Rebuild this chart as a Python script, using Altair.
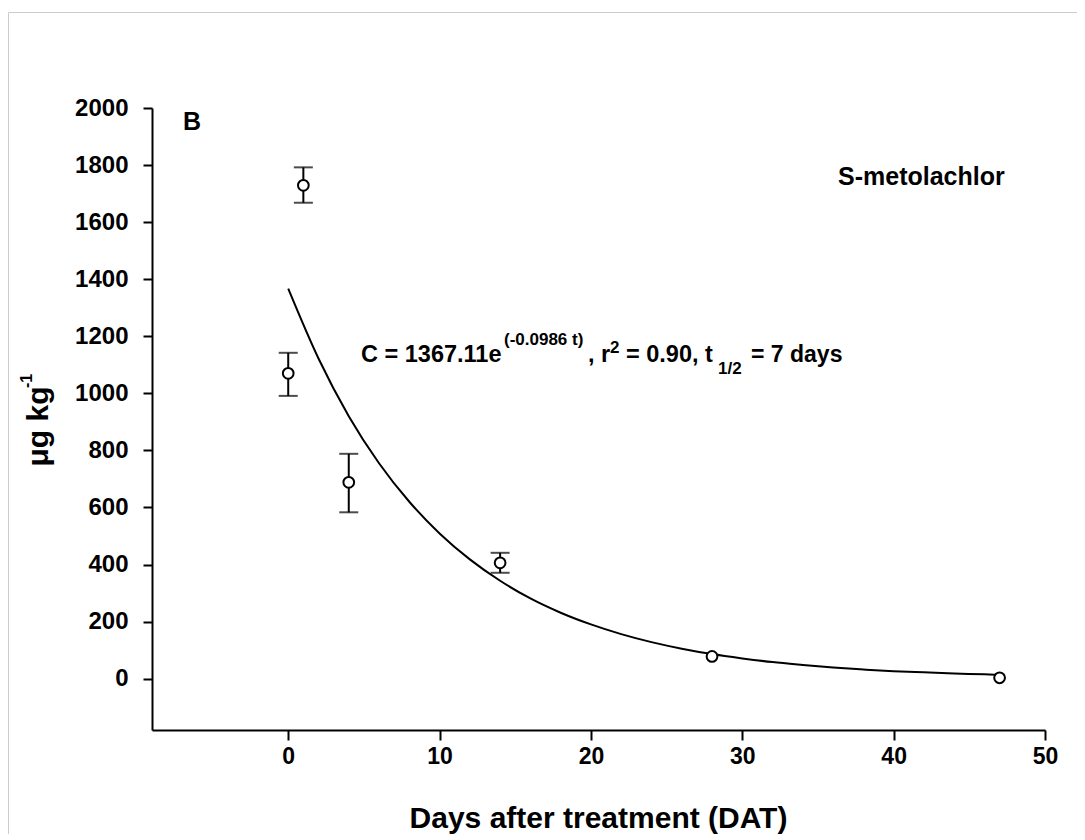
import altair as alt
import pandas as pd

# measured data (days after treatment, residue µg/kg, error-bar limits)
days = [0, 1, 4, 14, 28, 47]
mean = [1070, 1729, 688, 406, 78, 3]
err_lo = [991, 1668, 583, 371, 78, 3]
err_hi = [1142, 1792, 788, 441, 78, 3]

# fitted decay curve
curve_t = [0, 2, 4, 6, 8, 10, 12, 14, 16, 18, 20, 22, 24, 26, 28, 30, 32, 34, 36, 38, 40, 42, 44, 46, 47]
curve_c = [1367, 1122, 920, 755, 620, 509, 418, 343, 281, 231, 190, 156, 128, 105, 86, 71, 58, 48, 39, 32, 26, 22, 18, 15, 13]

x_ticks = [0, 10, 20, 30, 40, 50]
y_ticks = [0, 200, 400, 600, 800, 1000, 1200, 1400, 1600, 1800, 2000]

FONT = "Liberation Sans"

pts = pd.DataFrame({"day": days, "c": mean, "lo": err_lo, "hi": err_hi})
crv = pd.DataFrame({"t": curve_t, "c": curve_c})

xs = alt.Scale(domain=[-9, 50], nice=False, zero=False)
ys = alt.Scale(domain=[-180, 2000], nice=False, zero=False)

x_axis = alt.Axis(values=x_ticks, format="d", title="Days after treatment (DAT)", grid=False,
                  tickSize=10, labelPadding=5, labelFlush=False, labelOverlap=False,
                  titleFontSize=30, titleBaseline="alphabetic",
                  titleY=97, titleX=446, titleAlign="center", labelFontSize=23)
y_axis = alt.Axis(values=y_ticks, format="d", title="μg kg", grid=False, tickSize=9, labelPadding=15,
                  labelFlush=False, labelOverlap=False,
                  titleFontSize=30, titleAngle=270, titleBaseline="alphabetic",
                  titleX=-105, titleY=318, titleAlign="center", labelFontSize=24)

line = alt.Chart(crv).mark_line(color="black", strokeWidth=2, interpolate="monotone").encode(
    x=alt.X("t:Q", scale=xs, axis=x_axis),
    y=alt.Y("c:Q", scale=ys, axis=y_axis),
)

eb = alt.Chart(pts).transform_filter("datum.hi > datum.lo")
bars = eb.mark_rule(color="black", strokeWidth=2).encode(
    x=alt.X("day:Q", scale=xs), y=alt.Y("lo:Q", scale=ys), y2="hi:Q")
cap_lo = eb.mark_tick(color="black", orient="horizontal", size=19, thickness=2).encode(
    x=alt.X("day:Q", scale=xs), y=alt.Y("lo:Q", scale=ys))
cap_hi = eb.mark_tick(color="black", orient="horizontal", size=19, thickness=2).encode(
    x=alt.X("day:Q", scale=xs), y=alt.Y("hi:Q", scale=ys))
dots = alt.Chart(pts).mark_point(shape="circle", size=115, filled=False, fill="white",
                                 fillOpacity=1, stroke="black", strokeWidth=2, opacity=1).encode(
    x=alt.X("day:Q", scale=xs), y=alt.Y("c:Q", scale=ys))


def label(text, x, y, size, angle=0):
    return alt.Chart(pd.DataFrame({"t": [text]})).mark_text(
        align="left", baseline="alphabetic", font=FONT, fontWeight="bold",
        fontSize=size, angle=angle, color="black").encode(
        x=alt.value(x), y=alt.value(y), text="t:N")


texts = [
    label("B", 31, 22, 25),
    label("S-metolachlor", 686, 77, 25),
    label("C = 1367.11e", 209, 254, 23.5),
    label("(-0.0986 t)", 352, 237, 17),
    label(", r", 436, 254, 23.5),
    label("2", 458, 245, 17),
    label("= 0.90, t", 474, 254, 23.5),
    label("1/2", 566, 266, 17),
    label("= 7 days", 599, 254, 23),
    label("-1", -120, 280, 16, angle=270),
]

frame = alt.Chart(pd.DataFrame({"a": [0]})).mark_rect(
    fillOpacity=0, stroke="#cccccc", strokeWidth=1).encode(
    x=alt.value(-143.5), x2=alt.value(960), y=alt.value(-95.5), y2=alt.value(900))

chart = alt.layer(frame, line, bars, cap_lo, cap_hi, dots, *texts).properties(
    width=893, height=622,
    padding={"left": 144, "top": 100, "right": 32, "bottom": 104},
    autosize=alt.AutoSizeParams(type="none"),
).configure_view(stroke=None).configure_axis(
    labelFont=FONT, titleFont=FONT, labelFontWeight="bold", titleFontWeight="bold",
    labelColor="black", titleColor="black", domainColor="black", tickColor="black",
    domainWidth=2, tickWidth=2,
)

chart.save("out.html", embed_options={"renderer": "svg", "actions": False})
